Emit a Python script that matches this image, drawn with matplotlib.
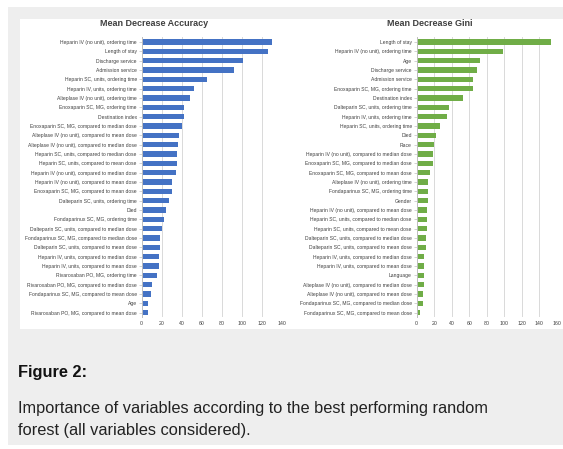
import matplotlib
matplotlib.use("Agg")
import matplotlib.pyplot as plt
from matplotlib.patches import Rectangle

W, H = 563, 449

acc_labels = [
    "Heparin IV (no unit), ordering time",
    "Length of stay",
    "Discharge service",
    "Admission service",
    "Heparin SC, units, ordering time",
    "Heparin IV, units, ordering time",
    "Alteplase IV (no unit), ordering time",
    "Enoxaparin SC, MG, ordering time",
    "Destination index",
    "Enoxaparin SC, MG, compared to median dose",
    "Alteplase IV (no unit), compared to mean dose",
    "Alteplase IV (no unit), compared to median dose",
    "Heparin SC, units, compared to median dose",
    "Heparin SC, units, compared to mean dose",
    "Heparin IV (no unit), compared to median dose",
    "Heparin IV (no unit), compared to mean dose",
    "Enoxaparin SC, MG, compared to mean dose",
    "Dalteparin SC, units, ordering time",
    "Died",
    "Fondaparinux SC, MG, ordering time",
    "Dalteparin SC, units, compared to median dose",
    "Fondaparinux SC, MG, compared to median dose",
    "Dalteparin SC, units, compared to mean dose",
    "Heparin IV, units, compared to median dose",
    "Heparin IV, units, compared to mean dose",
    "Rivaroxaban PO, MG, ordering time",
    "Rivaroxaban PO, MG, compared to median dose",
    "Fondaparinux SC, MG, compared to mean dose",
    "Age",
    "Rivaroxaban PO, MG, compared to mean dose",
]
acc_values = [130, 126.5, 101.5, 92, 65, 52.5, 48.5, 42.5, 42, 40.5, 37.3, 36.7,
              35.6, 35.3, 34.3, 30.3, 30, 27.6, 24, 22, 20, 18.7, 18, 17.7, 17.3,
              15, 10, 9.7, 6.3, 6.3]

gini_labels = [
    "Length of stay",
    "Heparin IV (no unit), ordering time",
    "Age",
    "Discharge service",
    "Admission service",
    "Enoxaparin SC, MG, ordering time",
    "Destination index",
    "Dalteparin SC, units, ordering time",
    "Heparin IV, units, ordering time",
    "Heparin SC, units, ordering time",
    "Died",
    "Race",
    "Heparin IV (no unit), compared to median dose",
    "Enoxaparin SC, MG, compared to median dose",
    "Enoxaparin SC, MG, compared to mean dose",
    "Alteplase IV (no unit), ordering time",
    "Fondaparinux SC, MG, ordering time",
    "Gender",
    "Heparin IV (no unit), compared to mean dose",
    "Heparin SC, units, compared to median dose",
    "Heparin SC, units, compared to mean dose",
    "Dalteparin SC, units, compared to median dose",
    "Dalteparin SC, units, compared to mean dose",
    "Heparin IV, units, compared to median dose",
    "Heparin IV, units, compared to mean dose",
    "Language",
    "Alteplase IV (no unit), compared to median dose",
    "Alteplase IV (no unit), compared to mean dose",
    "Fondaparinux SC, MG, compared to median dose",
    "Fondaparinux SC, MG, compared to mean dose",
]
gini_values = [153, 98.6, 72.4, 68.9, 64.8, 64.4, 52.6, 36.6, 34.7, 27, 22.5, 19.8,
               19, 18.3, 14.9, 13, 13, 12.6, 11.8, 11.8, 11.4, 10.7, 10.3, 8.4, 8.4,
               8, 8, 7.2, 6.9, 3.8]


def px(x, y):
    return x / W, 1 - y / H


fig = plt.figure(figsize=(W / 100, H / 100), dpi=100, facecolor="white")
plt.rcParams['font.family'] = ['Liberation Sans', 'DejaVu Sans']

# grey page panel and white chart image, kept behind the axes
fig.patches.append(Rectangle(px(8, 445), (W - 8) / W, 438 / H, transform=fig.transFigure,
                             facecolor="#eeeeee", edgecolor="none", zorder=-2))
fig.patches.append(Rectangle(px(20, 329), (W - 20) / W, 310 / H, transform=fig.transFigure,
                             facecolor="white", edgecolor="none", zorder=-1))


def bar_panel(left, xmax, labels, values, color, title, title_x):
    x0, y0 = px(left, 317.3)
    ax = fig.add_axes([x0, y0, 140 / W, 280 / H])
    ax.set_zorder(2)
    ax.set_facecolor("none")
    ypos = list(range(len(values)))
    ax.barh(ypos, values, height=0.55, color=color, zorder=3)
    ax.set_yticks(ypos)
    ax.set_yticklabels(labels, fontsize=3.6, color="#404040")
    ax.set_ylim(len(values) - 0.5, -0.5)
    ax.set_xlim(0, xmax)
    ax.set_xticks(range(0, xmax + 1, 20))
    ax.tick_params(axis="x", labelsize=3.8, length=0, pad=3, colors="#404040")
    ax.tick_params(axis="y", length=2, width=0.5, pad=1.5, color="#bfbfbf")
    ax.grid(axis="x", color="#d9d9d9", linewidth=0.7, zorder=0)
    for s in ["top", "right", "bottom"]:
        ax.spines[s].set_visible(False)
    ax.spines["left"].set_color("#bfbfbf")
    ax.spines["left"].set_linewidth(0.7)
    ax.spines["left"].set_zorder(4)
    tx, ty = px(title_x, 24)
    fig.text(tx, ty, title, ha="center", va="center", fontsize=6.5,
             fontweight="bold", color="#404040")
    return ax


bar_panel(141.7, 140, acc_labels, acc_values, "#4472c4", "Mean Decrease Accuracy", 154)
bar_panel(416.7, 160, gini_labels, gini_values, "#70ad47", "Mean Decrease Gini", 430)

tx, ty = px(18, 373)
fig.text(tx, ty, "Figure 2:", ha="left", va="center", fontsize=11.8,
         fontweight="bold", color="#111111")
tx, ty = px(18, 408)
fig.text(tx, ty, "Importance of variables according to the best performing random",
         ha="left", va="center", fontsize=11.8, color="#222222")
tx, ty = px(18, 430)
fig.text(tx, ty, "forest (all variables considered).",
         ha="left", va="center", fontsize=11.8, color="#222222")

fig.savefig("out.png", dpi=100, facecolor="white")
